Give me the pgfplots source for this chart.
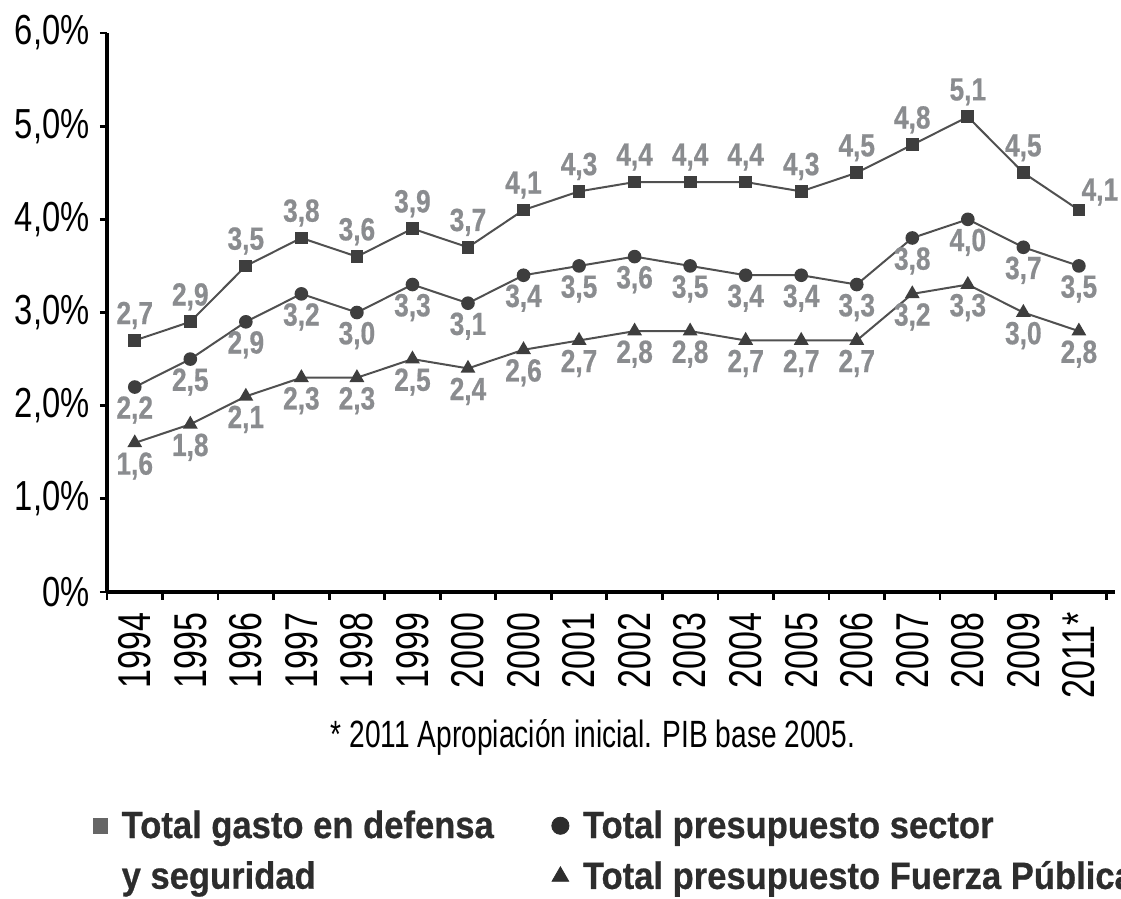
\documentclass[border=0pt]{standalone}
\usepackage{fontspec}
\setmainfont[FakeStretch=0.8]{Liberation Sans}
\newfontfamily\xtickfont[FakeStretch=0.74]{Liberation Sans}
\newfontfamily\ytickfont[FakeStretch=0.78]{Liberation Sans}
\newfontfamily\notefont[FakeStretch=0.74]{Liberation Sans}
\newfontfamily\labelfont[FakeStretch=0.82,FakeBold=0.6]{Liberation Sans Bold}
\newfontfamily\legfont[FakeStretch=0.91,FakeBold=0.6]{Liberation Sans Bold}
\usepackage{pgfplots}
\pgfplotsset{compat=1.18}
\usepackage{pgfplotstable}

\definecolor{linegray}{RGB}{80,80,80}
\definecolor{markgray}{RGB}{62,62,62}
\definecolor{labelgray}{RGB}{138,140,143}
\definecolor{textdark}{RGB}{45,45,45}

% Share of GDP (%), one row per year
\pgfplotstableread{
x gasto sector fuerza
0  2.7 2.2 1.6
1  2.9 2.5 1.8
2  3.5 2.9 2.1
3  3.8 3.2 2.3
4  3.6 3.0 2.3
5  3.9 3.3 2.5
6  3.7 3.1 2.4
7  4.1 3.4 2.6
8  4.3 3.5 2.7
9  4.4 3.6 2.8
10 4.4 3.5 2.8
11 4.4 3.4 2.7
12 4.3 3.4 2.7
13 4.5 3.3 2.7
14 4.8 3.8 3.2
15 5.1 4.0 3.3
16 4.5 3.7 3.0
17 4.1 3.5 2.8
}\datatable

\pgfplotsset{
  dotlegend/.style={legend image code/.code={\draw[##1] plot coordinates {(0pt,0pt)};}},
  valuelabel/.style={
    nodes near coords={\pgfmathprintnumber[fixed,fixed zerofill,precision=1,use comma,assume math mode=true]{\pgfplotspointmeta}},
    every node near coord/.append style={font=\labelfont\fontsize{16}{16}\selectfont,
      text=labelgray, anchor=center, inner sep=0pt},
  },
}

\begin{document}
\begin{tikzpicture}
\useasboundingbox (-53.5pt,-153.5pt) rectangle (507pt,296pt);
\begin{axis}[
  scale only axis,
  width=504pt, height=279.5pt,
  xmin=-0.5, xmax=17.65,
  ymin=0, ymax=6,
  axis lines*=left,
  axis line style={line width=1.6pt, black},
  clip=false,
  tick align=outside,
  xtick={0,...,17},
  xticklabels={1994,1995,1996,1997,1998,1999,2000,2000,2001,2002,2003,2004,2005,2006,2007,2008,2009,2011*},
  major x tick style={draw=none},
  minor xtick={-0.5,0.5,...,17.5},
  minor tick length=4pt,
  major tick length=3.5pt,
  tick style={line width=1.4pt, black},
  ytick={0,1,2,3,4,5,6},
  yticklabels={0\%,{1,0\%},{2,0\%},{3,0\%},{4,0\%},{5,0\%},{6,0\%}},
  /pgf/number format/assume math mode=true,
  xticklabel style={rotate=90, anchor=east, inner sep=0pt, xshift=-6.5pt,
    font=\xtickfont\fontsize{23}{23}\selectfont},
  yticklabel style={anchor=east, inner sep=0pt, xshift=-5pt,
    font=\ytickfont\fontsize{21}{21}\selectfont},
  legend style={at={(-0.014,-0.383)}, anchor=north west, draw=none, fill=none,
    legend columns=2, inner sep=0pt,
    font=\legfont\fontsize{19}{22}\selectfont, text=textdark,
    /tikz/every odd column/.append style={column sep=5pt},
    /tikz/every even column/.append style={column sep=27pt},
    row sep=6pt},
  legend cell align=left,
]
% lines with markers and value labels
\addplot[forget plot, linegray, line width=1pt, mark=square*, mark size=2.7pt,
  mark options={fill=markgray, draw=markgray},
  valuelabel,
  visualization depends on={x \as \xidx},
  every node near coord/.append style={xshift={(\xidx>16.5)*10.5pt}, yshift={12.5pt-(\xidx>16.5)*3.5pt}}]
  table[x=x, y=gasto]{\datatable};
\addplot[forget plot, linegray, line width=1pt, mark=*, mark size=2.9pt,
  mark options={fill=markgray, draw=markgray},
  valuelabel, every node near coord/.append style={yshift=-11.5pt}]
  table[x=x, y=sector]{\datatable};
\addplot[forget plot, linegray, line width=1pt, mark=triangle*, mark size=3.3pt,
  mark options={fill=markgray, draw=markgray},
  valuelabel, every node near coord/.append style={yshift=-11.5pt}]
  table[x=x, y=fuerza]{\datatable};

% legend: two columns, first entry wraps onto a second line
\addlegendimage{dotlegend, only marks, mark=square*, mark size=3.6pt, mark options={fill=gray!80!black, draw=gray!80!black}}
\addlegendentry{Total gasto en defensa}
\addlegendimage{dotlegend, only marks, mark=*, mark size=4.3pt, mark options={fill=textdark, draw=textdark}}
\addlegendentry{Total presupuesto sector}
\addlegendimage{empty legend}
\addlegendentry{y seguridad}
\addlegendimage{dotlegend, only marks, mark=triangle*, mark size=4.8pt, mark options={fill=textdark, draw=textdark}}
\addlegendentry{Total presupuesto Fuerza Pública}
\end{axis}
\node[anchor=base, font=\notefont\fontsize{19}{19}\selectfont, text=black, inner sep=0pt]
  at (243pt,-78pt) {* 2011 Apropiación inicial. PIB base 2005.};
\end{tikzpicture}
\end{document}
